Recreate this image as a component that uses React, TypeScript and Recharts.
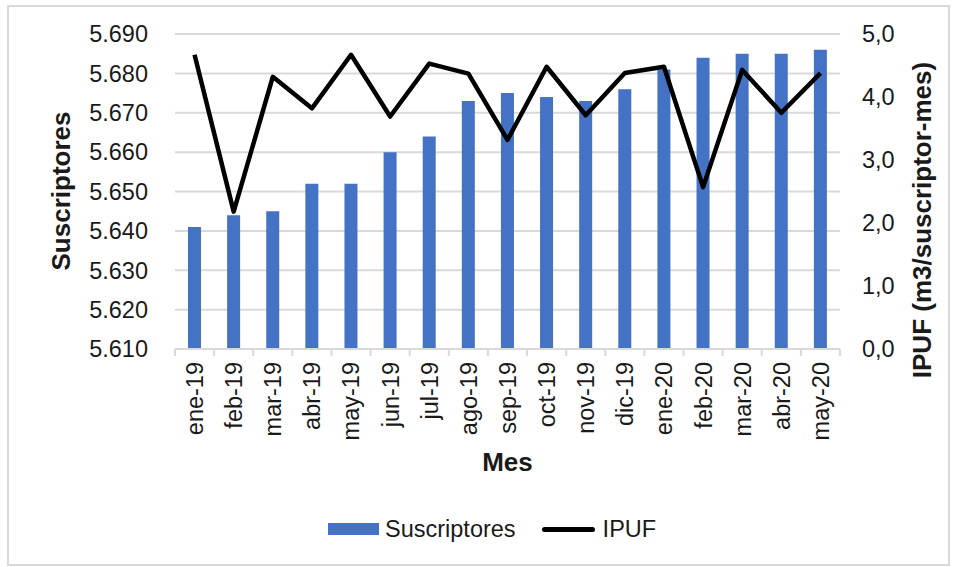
import {
  Bar,
  CartesianGrid,
  ComposedChart,
  Label,
  Legend,
  Line,
  XAxis,
  YAxis,
} from "recharts";

const months = [
  "ene-19", "feb-19", "mar-19", "abr-19", "may-19", "jun-19", "jul-19", "ago-19", "sep-19",
  "oct-19", "nov-19", "dic-19", "ene-20", "feb-20", "mar-20", "abr-20", "may-20",
];
const suscriptores = [
  5641, 5644, 5645, 5652, 5652, 5660, 5664, 5673, 5675, 5674, 5673, 5676, 5681, 5684, 5685, 5685, 5686,
];
const ipuf = [
  4.67, 2.18, 4.32, 3.82, 4.67, 3.69, 4.53, 4.37, 3.32, 4.48, 3.71, 4.38, 4.48, 2.57, 4.43, 3.75, 4.38,
];
const leftTicks = [5610, 5620, 5630, 5640, 5650, 5660, 5670, 5680, 5690];
const rightTicks = [0, 1, 2, 3, 4, 5];

const data = months.map((mes, i) => ({ mes, suscriptores: suscriptores[i], ipuf: ipuf[i] }));

const FONT = '"Liberation Sans", Arial, sans-serif';
const TEXT = "#1a1a1a";
const GRID = "#d9d9d9";
const BLUE = "#4472C4";

const W = 956;
const H = 567;
const LEFT_W = 175;
const RIGHT_W = 116;
const TOP = 34;
const X_H = 130;
const LEGEND_H = 30;
// legend height is added to the bottom offset by recharts
const BOTTOM = H - 349 - X_H - LEGEND_H;
const BAND = (W - LEFT_W - RIGHT_W) / months.length;

function MonthTick(props: any) {
  const { x, y, payload, index } = props;
  const half = BAND / 2;
  return (
    <g>
      <line x1={x - half} x2={x - half} y1={y} y2={y + 7} stroke={GRID} strokeWidth={2} />
      {index === months.length - 1 && (
        <line x1={x + half} x2={x + half} y1={y} y2={y + 7} stroke={GRID} strokeWidth={2} />
      )}
      <g transform={`translate(${x},${y})`}>
        <text
          transform="rotate(-90)"
          x={-13}
          y={0}
          dy="0.36em"
          textAnchor="end"
          fontSize={23.5}
          fontFamily={FONT}
          fill={TEXT}
        >
          {payload.value}
        </text>
      </g>
    </g>
  );
}

function LegendContent() {
  return (
    <div
      style={{
        display: "flex",
        alignItems: "center",
        fontFamily: FONT,
        fontSize: 23.5,
        color: TEXT,
        height: LEGEND_H,
      }}
    >
      <span style={{ width: 51, height: 12, background: BLUE, marginRight: 6 }} />
      <span>Suscriptores</span>
      <span
        style={{ width: 53, height: 5, background: "#000", borderRadius: 3, marginLeft: 26, marginRight: 8 }}
      />
      <span>IPUF</span>
    </div>
  );
}

export default function App() {
  return (
    <div style={{ position: "absolute", left: 0, top: 0, width: W, height: H, background: "#fff" }}>
      <div
        style={{
          position: "absolute",
          left: 7,
          top: 5,
          width: 943,
          height: 561,
          border: `2px solid ${GRID}`,
          boxSizing: "border-box",
        }}
      />
      <ComposedChart
        width={W}
        height={H}
        data={data}
        margin={{ top: TOP, right: 0, left: 0, bottom: BOTTOM }}
        barCategoryGap="33%"
      >
        <CartesianGrid yAxisId="left" vertical={false} stroke={GRID} strokeWidth={2} />
        <XAxis
          dataKey="mes"
          height={X_H}
          interval={0}
          axisLine={{ stroke: GRID, strokeWidth: 2 }}
          tickLine={false}
          tickSize={0}
          tickMargin={0}
          tick={<MonthTick />}
        >
          <Label
            content={() => (
              <text
                x={507.5}
                y={462}
                dy="0.36em"
                textAnchor="middle"
                fontSize={26}
                fontWeight="bold"
                fontFamily={FONT}
                fill={TEXT}
              >
                Mes
              </text>
            )}
          />
        </XAxis>
        <YAxis
          yAxisId="left"
          width={LEFT_W}
          domain={[5610, 5690]}
          ticks={leftTicks}
          allowDataOverflow
          axisLine={false}
          tickLine={false}
          tickSize={0}
          tickMargin={27}
          tick={{ fontSize: 23.5, fontFamily: FONT, fill: TEXT }}
          tickFormatter={(v: number) => v.toLocaleString("de-DE")}
        >
          <Label
            content={() => (
              <text
                transform="translate(61,191) rotate(-90)"
                dy="0.36em"
                textAnchor="middle"
                fontSize={26}
                fontWeight="bold"
                fontFamily={FONT}
                fill={TEXT}
              >
                Suscriptores
              </text>
            )}
          />
        </YAxis>
        <YAxis
          yAxisId="right"
          orientation="right"
          width={RIGHT_W}
          domain={[0, 5]}
          ticks={rightTicks}
          axisLine={false}
          tickLine={false}
          tickSize={0}
          tickMargin={22}
          tick={{ fontSize: 23.5, fontFamily: FONT, fill: TEXT }}
          tickFormatter={(v: number) => v.toFixed(1).replace(".", ",")}
        >
          <Label
            content={() => (
              <text
                transform="translate(922,220) rotate(-90)"
                dy="0.36em"
                textAnchor="middle"
                fontSize={26}
                fontWeight="bold"
                fontFamily={FONT}
                fill={TEXT}
              >
                IPUF (m3/suscriptor-mes)
              </text>
            )}
          />
        </YAxis>
        <Bar
          yAxisId="left"
          dataKey="suscriptores"
          name="Suscriptores"
          fill={BLUE}
          barSize={13}
          isAnimationActive={false}
        />
        <Line
          yAxisId="right"
          dataKey="ipuf"
          name="IPUF"
          type="linear"
          stroke="#000"
          strokeWidth={4.5}
          strokeLinejoin="round"
          dot={false}
          activeDot={false}
          isAnimationActive={false}
        />
        <Legend
          content={<LegendContent />}
          wrapperStyle={{ top: 514, left: 328, width: 400, height: LEGEND_H }}
        />
      </ComposedChart>
    </div>
  );
}
